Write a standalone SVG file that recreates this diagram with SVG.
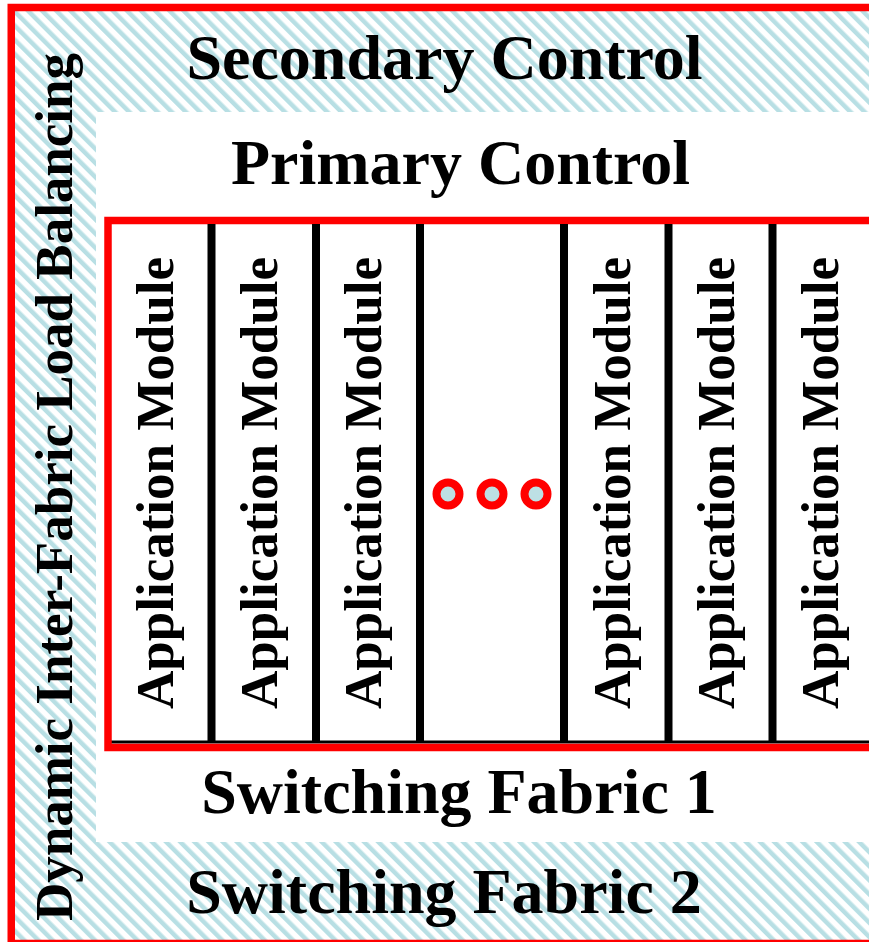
<svg xmlns="http://www.w3.org/2000/svg" width="869" height="942" viewBox="0 0 869 942">
<defs>
<pattern id="hatch" patternUnits="userSpaceOnUse" width="10" height="10" patternTransform="rotate(-45)">
<rect x="0" y="0" width="10" height="10" fill="#ffffff"/>
<rect x="0" y="0" width="4.5" height="10" fill="#b8dfe4"/>
</pattern>
<style>
.lbl{font-family:"Liberation Serif","Times New Roman",serif;font-weight:bold;fill:#000;text-anchor:middle}
.big{font-size:64px}
.mod{font-size:53px}
.red{fill:none;stroke:#ff0000;stroke-width:7.5}
.div{stroke:#000;stroke-width:8}
.dot{fill:#bde0e4;stroke:#ff0000;stroke-width:8}
</style>
</defs>
<rect width="869" height="942" fill="#ffffff"/>
<g id="background">
<rect x="15" y="11" width="854" height="931" fill="url(#hatch)"/>
<rect x="96" y="112" width="773" height="730" fill="#ffffff"/>
</g>
<g id="load-balancing">
<rect class="red" x="11.25" y="7.5" width="900" height="936"/>
<text class="lbl mod" transform="translate(72,487) rotate(-90)">Dynamic Inter-Fabric Load Balancing</text>
</g>
<g id="secondary-control">
<text class="lbl big" x="444.5" y="79">Secondary Control</text>
</g>
<g id="primary-control">
<text class="lbl big" x="460.5" y="184">Primary Control</text>
</g>
<g id="switching-fabric-1">
<text class="lbl big" x="459" y="813">Switching Fabric 1</text>
</g>
<g id="switching-fabric-2">
<text class="lbl big" x="444" y="913">Switching Fabric 2</text>
</g>
<g id="modules">
<line x1="108" y1="742" x2="869" y2="742" stroke="#000" stroke-width="3"/>
<rect class="red" x="108" y="220.5" width="800" height="527"/>
<line class="div" x1="211.5" y1="224" x2="211.5" y2="743"/>
<line class="div" x1="316" y1="224" x2="316" y2="743"/>
<line class="div" x1="420" y1="224" x2="420" y2="743"/>
<line class="div" x1="564" y1="224" x2="564" y2="743"/>
<line class="div" x1="668.5" y1="224" x2="668.5" y2="743"/>
<line class="div" x1="772.5" y1="224" x2="772.5" y2="743"/>
</g>
<g id="module-1"><text class="lbl mod" transform="translate(173,483) rotate(-90)">Application Module</text></g>
<g id="module-2"><text class="lbl mod" transform="translate(277,483) rotate(-90)">Application Module</text></g>
<g id="module-3"><text class="lbl mod" transform="translate(381,483) rotate(-90)">Application Module</text></g>
<g id="ellipsis">
<circle class="dot" cx="448" cy="494" r="11.5"/>
<circle class="dot" cx="492" cy="494" r="11.5"/>
<circle class="dot" cx="536" cy="494" r="11.5"/>
</g>
<g id="module-5"><text class="lbl mod" transform="translate(630,483) rotate(-90)">Application Module</text></g>
<g id="module-6"><text class="lbl mod" transform="translate(734,483) rotate(-90)">Application Module</text></g>
<g id="module-7"><text class="lbl mod" transform="translate(838,483) rotate(-90)">Application Module</text></g>
</svg>
